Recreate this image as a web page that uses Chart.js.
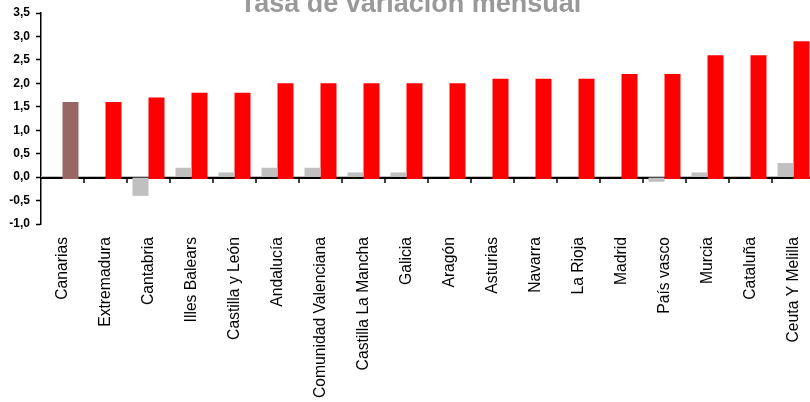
<!DOCTYPE html>
<html>
<head>
<meta charset="utf-8">
<script src="https://cdn.jsdelivr.net/npm/chart.js@4"></script>
<style>
  html, body { margin: 0; padding: 0; background: #fff; overflow: hidden; width: 810px; height: 402px; }
  canvas { display: block; }
</style>
</head>
<body>
<canvas id="c" width="816" height="402"></canvas>
<script>
const titleText = "Tasa de variación mensual";
const categories = ["Canarias","Extremadura","Cantabria","Illes Balears","Castilla y León","Andalucía","Comunidad Valenciana","Castilla La Mancha","Galicia","Aragón","Asturias","Navarra","La Rioja","Madrid","País vasco","Murcia","Cataluña","Ceuta Y Melilla"];
const grayValues = [0, 0, -0.4, 0.2, 0.1, 0.2, 0.2, 0.1, 0.1, 0, 0, 0, 0, 0, -0.1, 0.1, 0, 0.3];
const redValues  = [1.6, 1.6, 1.7, 1.8, 1.8, 2.0, 2.0, 2.0, 2.0, 2.0, 2.1, 2.1, 2.1, 2.2, 2.2, 2.6, 2.6, 2.9];
const yTicks = [-1.0, -0.5, 0, 0.5, 1.0, 1.5, 2.0, 2.5, 3.0, 3.5];

const FONT = "'Liberation Sans', Arial, sans-serif";
const redColors = redValues.map((v, i) => i === 0 ? '#996666' : '#FF0000');

const decor = {
  id: 'decor',
  beforeDatasetsDraw(chart) {
    const ctx = chart.ctx;
    const x = chart.scales.x, y = chart.scales.y;
    const z = Math.round(y.getPixelForValue(0));
    ctx.save();
    ctx.fillStyle = '#c0c0c0';
    ctx.fillRect(x.left, z - 1, x.right - x.left, 1);
    ctx.fillStyle = '#000';
    ctx.fillRect(x.left, z, x.right - x.left, 2);
    const n = categories.length;
    const w = (x.right - x.left) / n;
    ctx.strokeStyle = '#000';
    ctx.lineWidth = 1.5;
    for (let i = 1; i <= n; i++) {
      const px = Math.round(x.getPixelForValue(i - 1) + w / 2);
      ctx.beginPath();
      ctx.moveTo(px, z + 1);
      ctx.lineTo(px, z + 6);
      ctx.stroke();
    }
    ctx.restore();
  },
  afterDraw(chart) {
    const ctx = chart.ctx;
    ctx.save();
    ctx.font = "bold 27px " + FONT;
    ctx.fillStyle = '#999999';
    ctx.textAlign = 'center';
    ctx.textBaseline = 'alphabetic';
    ctx.fillText(titleText, 410.5, 12);
    ctx.restore();
  }
};

new Chart(document.getElementById('c'), {
  type: 'bar',
  data: {
    labels: categories,
    datasets: [
      { data: grayValues, backgroundColor: '#C0C0C0', borderWidth: 0 },
      { data: redValues, backgroundColor: redColors, borderWidth: 0, base: -0.04 }
    ]
  },
  options: {
    responsive: false,
    animation: false,
    devicePixelRatio: 1,
    layout: { padding: { top: 13, right: 1, bottom: 0, left: 0 } },
    datasets: { bar: { categoryPercentage: 0.744, barPercentage: 1 } },
    plugins: { legend: { display: false }, tooltip: { enabled: false }, title: { display: false } },
    scales: {
      x: {
        grid: { display: false, drawTicks: false },
        border: { display: false },
        ticks: {
          autoSkip: false, minRotation: 90, maxRotation: 90, padding: 13,
          color: '#000', font: { family: FONT, size: 15.7 }
        },
        afterFit(s) { s.height = 178; s.paddingLeft = 0; s.paddingRight = 0; }
      },
      y: {
        min: -1, max: 3.5,
        afterBuildTicks(s) { s.ticks = yTicks.map(v => ({ value: v })); },
        grid: { drawOnChartArea: false, color: '#000', tickColor: '#000', tickLength: 5, tickWidth: 1.5 },
        border: { display: true, color: '#000', width: 1.5 },
        ticks: {
          padding: 6, color: '#000', font: { family: FONT, size: 12, weight: 'bold' },
          callback: v => Number(v).toFixed(1).replace('.', ',')
        },
        afterFit(s) { s.width = 41; s.paddingTop = 0; s.paddingBottom = 0; }
      }
    }
  },
  plugins: [decor]
});
</script>
</body>
</html>
